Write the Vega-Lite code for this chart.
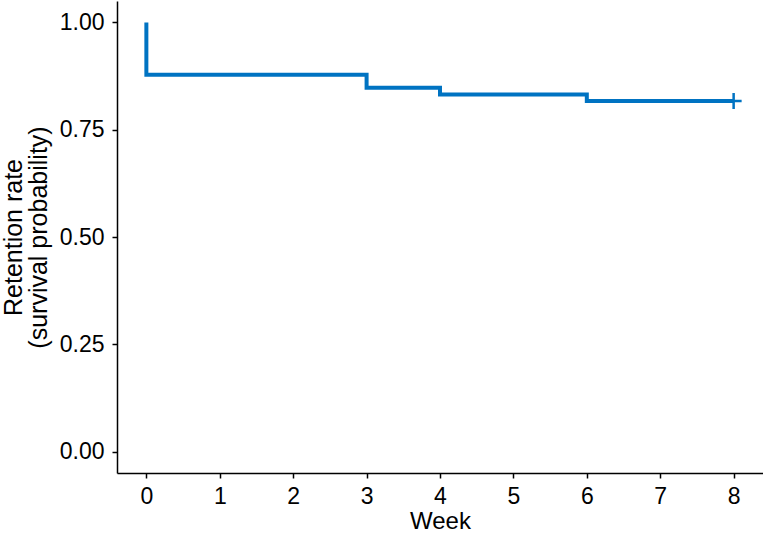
{
  "$schema": "https://vega.github.io/schema/vega-lite/v6.json",
  "autosize": "none",
  "width": 646,
  "height": 472,
  "padding": {"left": 117, "top": 1, "right": 0, "bottom": 60},
  "background": "white",
  "config": {
    "view": {"stroke": null},
    "font": "Liberation Sans",
    "axis": {
      "domainColor": "black",
      "domainWidth": 1.5,
      "tickColor": "black",
      "tickWidth": 1.5,
      "tickSize": 5,
      "grid": false,
      "labelColor": "black",
      "titleColor": "black",
      "labelFont": "Liberation Sans",
      "titleFont": "Liberation Sans",
      "titleFontWeight": "normal"
    }
  },
  "datasets": {
    "curve": [
      {"week": 0, "surv": 1.0},
      {"week": 0, "surv": 0.878},
      {"week": 3, "surv": 0.848},
      {"week": 4, "surv": 0.832},
      {"week": 6, "surv": 0.817},
      {"week": 8, "surv": 0.817}
    ],
    "censor": [
      {"week": 8, "surv": 0.817}
    ]
  },
  "layer": [
    {
      "data": {"name": "curve"},
      "mark": {"type": "line", "interpolate": "step-after", "color": "#0073C2", "strokeWidth": 4, "clip": true},
      "encoding": {
        "x": {
          "field": "week", "type": "quantitative",
          "scale": {"domain": [-0.4, 8.4], "nice": false, "zero": false},
          "axis": {
            "values": [0, 1, 2, 3, 4, 5, 6, 7, 8],
            "format": "d",
            "title": "Week",
            "labelFontSize": 23,
            "labelBaseline": "alphabetic",
            "labelPadding": 25.5,
            "labelFlush": false,
            "titleFontSize": 24,
            "titleBaseline": "alphabetic",
            "titleAlign": "center",
            "titleX": 323,
            "titleY": 55
          }
        },
        "y": {
          "field": "surv", "type": "quantitative",
          "scale": {"domain": [-0.05, 1.05], "nice": false, "zero": false},
          "axis": {
            "values": [0, 0.25, 0.5, 0.75, 1],
            "format": ".2f",
            "title": ["Retention rate", "(survival probability)"],
            "labelFontSize": 23,
            "labelPadding": 8,
            "labelFlush": false,
            "titleFontSize": 25,
            "titleLineHeight": 25.5,
            "titleAngle": -90,
            "titleBaseline": "alphabetic",
            "titleAlign": "center",
            "titleX": -96,
            "titleY": 236
          }
        }
      }
    },
    {
      "data": {"name": "censor"},
      "mark": {"type": "point", "shape": "M-1,0H1M0,-1V1", "size": 256, "filled": false, "color": "#0073C2", "strokeWidth": 2.5, "opacity": 1},
      "encoding": {
        "x": {"field": "week", "type": "quantitative"},
        "y": {"field": "surv", "type": "quantitative"}
      }
    }
  ]
}
